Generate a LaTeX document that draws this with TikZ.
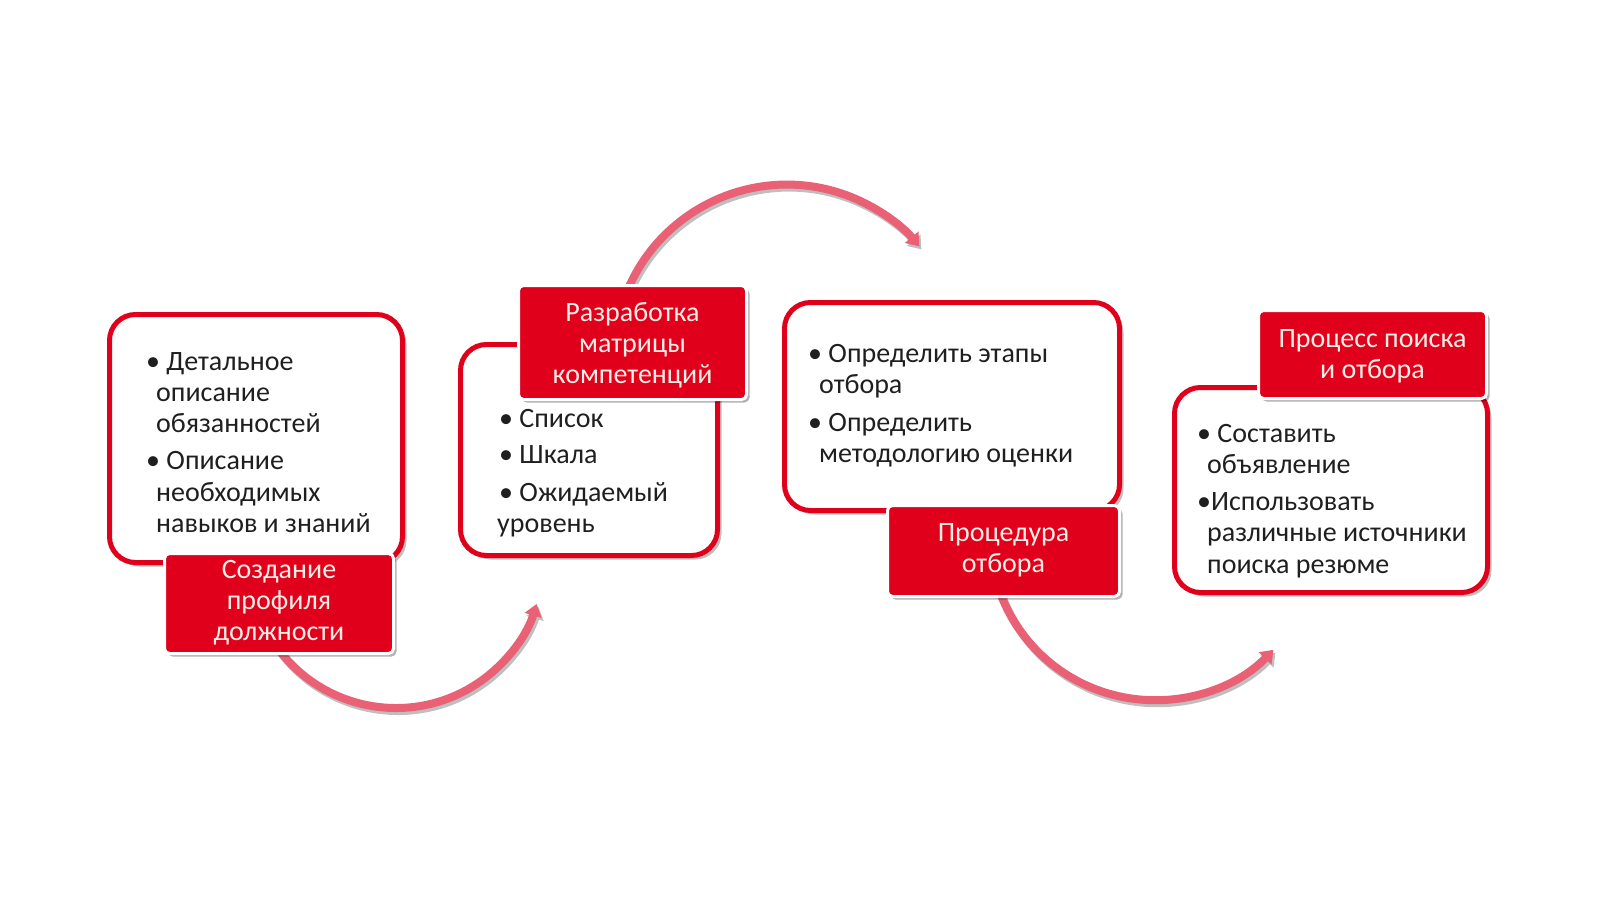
\documentclass[tikz,border=0pt]{standalone}
\usepackage{fontspec}
\setmainfont{Carlito}
\usetikzlibrary{shadows,arrows.meta}
\definecolor{hrred}{RGB}{224,0,27}
\definecolor{arcpink}{RGB}{234,96,116}
\definecolor{tagtxt}{RGB}{255,238,230}
\begin{document}
\begin{tikzpicture}[x=1pt,y=-1pt,
  card/.style={draw=hrred, line width=5pt, fill=white, rounded corners=26pt, inner sep=0pt,
    drop shadow={shadow xshift=4pt, shadow yshift=-4pt, opacity=0.25, fill=black}},
  tag/.style={draw=white, line width=3pt, fill=hrred, rounded corners=5pt, inner sep=0pt,
    align=center, text=tagtxt, font=\fontsize{28}{31}\selectfont,
    drop shadow={shadow xshift=3pt, shadow yshift=-3pt, opacity=0.3, fill=black}},
  body/.style={anchor=north west, align=left, inner sep=0pt, font=\fontsize{28}{31.2}\selectfont, text=black!88},
  flow/.style={draw=arcpink, line width=8pt, -{Triangle[width=17pt,length=12pt]}},
  flowshadow/.style={draw=black!25, line width=8pt, -{Triangle[width=17pt,length=12pt]}}
]
\useasboundingbox (0,0) rectangle (1600,900);
\fill[white] (0,0) rectangle (1600,900);

% connectors (behind the cards)
\coordinate (a1s) at (277.1,647.4);
\coordinate (a2s) at (627.6,290.0);
\coordinate (a3s) at (1000.7,594.3);
\draw[flowshadow] ([shift={(2,3)}]a1s) arc[start angle=144,end angle=17,radius=147];
\draw[flow] (a1s) arc[start angle=144,end angle=17,radius=147];
\draw[flowshadow] ([shift={(2,3)}]a2s) arc[start angle=-157,end angle=-40,radius=173];
\draw[flow] (a2s) arc[start angle=-157,end angle=-40,radius=173];
\draw[flowshadow] ([shift={(2,3)}]a3s) arc[start angle=159,end angle=44,radius=165];
\draw[flow] (a3s) arc[start angle=159,end angle=44,radius=165];

% step 1
\node[card, minimum width=293pt, minimum height=248pt] (b1) at (256,438.5) {};
\node[tag, minimum width=229pt, minimum height=100pt] (l1) at (279,603.5)
  {\strut Создание\\профиля\\должности\strut};
\node[body] (t1) at (146,348.3)
  {\strut• Детальное\\ \hspace*{10pt}описание\\ \hspace*{10pt}обязанностей\\[6pt]
   • Описание\\ \hspace*{10pt}необходимых\\ \hspace*{10pt}навыков и знаний};

% step 2
\node[card, minimum width=257pt, minimum height=211pt] (b2) at (589,450) {};
\node[tag, minimum width=228pt, minimum height=114pt] (l2) at (632.5,342.5)
  {\rule{0pt}{29.5pt}Разработка\\матрицы\\компетенций\strut};
\node[body] (t2) at (499,405.3)
  {\strut• Список\\[5pt] • Шкала\\[7pt] • Ожидаемый\\ \hspace*{-2pt}уровень};

% step 3
\node[card, minimum width=335pt, minimum height=208pt] (b3) at (952,406.5) {};
\node[tag, minimum width=232pt, minimum height=91pt] (l3) at (1003.5,551)
  {\strut Процедура\\отбора\strut};
\node[body] (t3) at (808,340.3)
  {\strut• Определить этапы\\ \hspace*{11pt}отбора\\[7pt]
   • Определить\\ \hspace*{11pt}методологию оценки};

% step 4
\node[card, minimum width=313pt, minimum height=205pt] (b4) at (1331,490) {};
\node[tag, minimum width=228pt, minimum height=88pt] (l4) at (1372.5,354.5)
  {\rule{0pt}{25.5pt}Процесс поиска\\и отбора\strut};
\node[body] (t4) at (1197,420.3)
  {\strut• Составить\\ \hspace*{10pt}объявление\\[6pt]
   •Использовать\\ \hspace*{10pt}различные источники\\ \hspace*{10pt}поиска резюме};
\end{tikzpicture}
\end{document}
